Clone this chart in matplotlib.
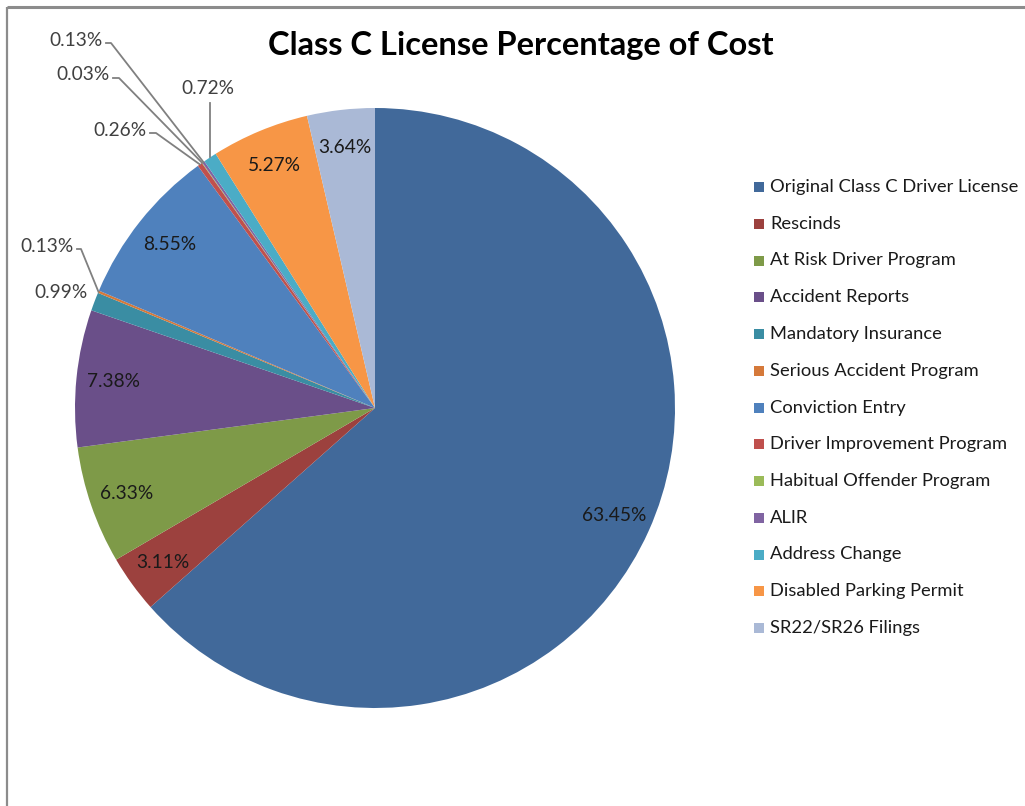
import matplotlib
matplotlib.use("Agg")
import matplotlib.pyplot as plt
from matplotlib.patches import Rectangle
import numpy as np

plt.rcParams['font.family'] = ['Lato', 'DejaVu Sans']

categories = ["Original Class C Driver License", "Rescinds", "At Risk Driver Program",
              "Accident Reports", "Mandatory Insurance", "Serious Accident Program",
              "Conviction Entry", "Driver Improvement Program", "Habitual Offender Program",
              "ALIR", "Address Change", "Disabled Parking Permit", "SR22/SR26 Filings"]
values = [63.45, 3.11, 6.33, 7.38, 0.99, 0.13, 8.55, 0.26, 0.03, 0.13, 0.72, 5.27, 3.64]
colors = ["#41699A", "#9C413E", "#7E9A48", "#6A4F89", "#3A8DA3", "#D5793A",
          "#4F81BD", "#C0504D", "#9BBB59", "#8064A2", "#4BACC6", "#F79646", "#AAB9D6"]

W, H = 1025, 806
fig = plt.figure(figsize=(W / 100, H / 100), dpi=100)
ax = fig.add_axes([0, 0, 1, 1])

cx, cy, R = 375, H - 408, 300
wedges, _ = ax.pie(values, colors=colors, startangle=90, counterclock=False,
                   center=(cx, cy), radius=R,
                   wedgeprops=dict(linewidth=0))
ax.set_xlim(0, W)
ax.set_ylim(0, H)
ax.set_aspect('auto')
ax.axis('off')

# frame lines (top and left)
ax.plot([7, W], [H - 7, H - 7], color="#8c8c8c", lw=2.2, solid_capstyle='butt')
ax.plot([7, 7], [0, H - 7], color="#8c8c8c", lw=1.6, solid_capstyle='butt')

ax.text(521, H - 45, "Class C License Percentage of Cost", ha='center', va='center',
        fontsize=23.5, fontweight='bold', color="#000000")

def mid_angle(w):
    return np.deg2rad((w.theta1 + w.theta2) / 2)

def edge_point(w, frac=1.0):
    a = mid_angle(w)
    return cx + frac * R * np.cos(a), cy + frac * R * np.sin(a)

fs_lab = 13.8
fs_leg = 13.2
txtc = "#1a1a1a"
inside = [0, 1, 2, 3, 6, 11, 12]
for i in inside:
    x, y = edge_point(wedges[i], 0.875)
    ax.text(x, y, f"{values[i]:.2f}%", ha='center', va='center', fontsize=fs_lab, color=txtc)

lc = "#808080"
ec = "#404040"
# Mandatory Insurance label (no leader)
ax.text(88, H - 293, f"{values[4]:.2f}%", ha='right', va='center', fontsize=fs_lab, color=ec)

# external labels with elbow leaders: (index, text right x, text y, elbow x)
ext = [(5, 74, 246, 81), (7, 147, 130, 156), (8, 110, 75, 119), (9, 103, 40, 111)]
for i, tx, ty, ex in ext:
    ax.text(tx, H - ty, f"{values[i]:.2f}%", ha='right', va='center', fontsize=fs_lab, color=ec)
    px, py = edge_point(wedges[i], 1.0)
    ax.plot([tx + 3, ex, px], [H - ty - 3, H - ty - 3, py], color=lc, lw=1.3)

# Address change label with vertical leader
px, py = edge_point(wedges[10], 1.0)
ax.text(208, H - 88, f"{values[10]:.2f}%", ha='center', va='center', fontsize=fs_lab, color=ec)
ax.plot([px, px], [H - 103, py], color=lc, lw=1.3)

# legend
ly0, dy = 187, 36.75
for k, (lab, col) in enumerate(zip(categories, colors)):
    y = H - (ly0 + k * dy)
    ax.add_patch(Rectangle((754, y - 5), 10, 10, facecolor=col, edgecolor='none'))
    ax.text(770, y, lab, ha='left', va='center', fontsize=fs_leg, color="#1a1a1a")

fig.savefig("out.png", dpi=100, facecolor="white")
